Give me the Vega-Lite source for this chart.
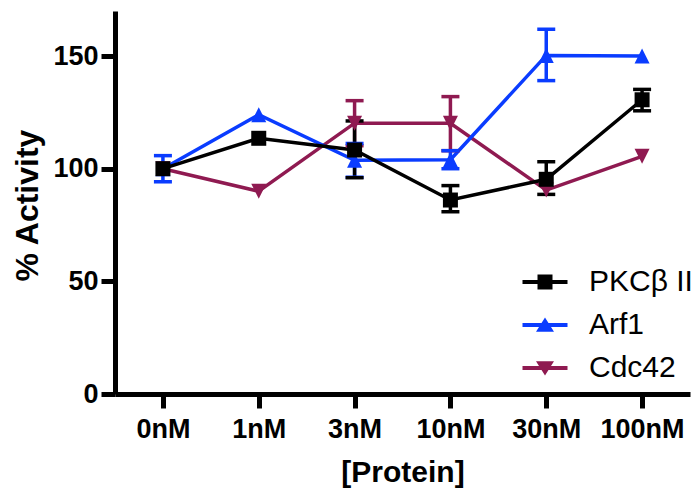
{
  "$schema": "https://vega.github.io/schema/vega-lite/v6.json",
  "width": 575,
  "height": 383,
  "autosize": {"type": "none"},
  "padding": {"left": 115, "top": 11, "right": 9, "bottom": 95},
  "config": {"view": {"stroke": null}, "font": "Liberation Sans"},
  "data": {
    "values": [
      {"conc": "0nM", "series": "Cdc42", "value": 100, "lo": null, "hi": null},
      {"conc": "1nM", "series": "Cdc42", "value": 90, "lo": null, "hi": null},
      {"conc": "3nM", "series": "Cdc42", "value": 120.2, "lo": 110.2, "hi": 130.2},
      {"conc": "10nM", "series": "Cdc42", "value": 120.2, "lo": 108, "hi": 132},
      {"conc": "30nM", "series": "Cdc42", "value": 90.5, "lo": null, "hi": null},
      {"conc": "100nM", "series": "Cdc42", "value": 105.5, "lo": null, "hi": null},
      {"conc": "0nM", "series": "Arf1", "value": 100, "lo": 94.2, "hi": 105.8},
      {"conc": "1nM", "series": "Arf1", "value": 124, "lo": null, "hi": null},
      {"conc": "3nM", "series": "Arf1", "value": 103.7, "lo": 96.2, "hi": 111.2},
      {"conc": "10nM", "series": "Arf1", "value": 104, "lo": 100, "hi": 108},
      {"conc": "30nM", "series": "Arf1", "value": 150.3, "lo": 139.1, "hi": 161.9},
      {"conc": "100nM", "series": "Arf1", "value": 150, "lo": null, "hi": null},
      {"conc": "0nM", "series": "PKCβ II", "value": 100, "lo": null, "hi": null},
      {"conc": "1nM", "series": "PKCβ II", "value": 113.5, "lo": null, "hi": null},
      {"conc": "3nM", "series": "PKCβ II", "value": 108.3, "lo": 96, "hi": 121.2},
      {"conc": "10nM", "series": "PKCβ II", "value": 86.1, "lo": 80.9, "hi": 92.5},
      {"conc": "30nM", "series": "PKCβ II", "value": 95.3, "lo": 88.6, "hi": 103.1},
      {"conc": "100nM", "series": "PKCβ II", "value": 130.6, "lo": 125.7, "hi": 135.2}
    ]
  },
  "encoding": {
    "x": {
      "field": "conc",
      "type": "ordinal",
      "sort": ["0nM", "1nM", "3nM", "10nM", "30nM", "100nM"],
      "scale": {"type": "point", "padding": 0.5},
      "axis": {
        "title": "[Protein]",
        "labelAngle": 0,
        "labelFont": "Liberation Sans",
        "labelFontSize": 27,
        "labelFontWeight": "bold",
        "labelColor": "#000000",
        "labelPadding": 8,
        "tickSize": 14,
        "tickWidth": 5,
        "tickColor": "#000000",
        "domainWidth": 5,
        "domainColor": "#000000",
        "grid": false,
        "titleFont": "Liberation Sans",
        "titleFontSize": 30,
        "titleFontWeight": "bold",
        "titleColor": "#000000",
        "titleX": 287.5,
        "titleY": 87,
        "titleAlign": "center",
        "titleBaseline": "alphabetic"
      }
    },
    "color": {
      "field": "series",
      "type": "nominal",
      "scale": {
        "domain": ["PKCβ II", "Arf1", "Cdc42"],
        "range": ["#000000", "#0A3CFF", "#8F1A51"]
      },
      "legend": {
        "title": null,
        "orient": "none",
        "legendX": 415,
        "legendY": 256,
        "padding": 0,
        "symbolSize": 900,
        "labelFont": "Liberation Sans",
        "labelFontSize": 30,
        "labelColor": "#000000",
        "labelOffset": 29,
        "rowPadding": 13,
        "encode": {
          "symbols": {
            "update": {
              "shape": {"signal": "datum.value === 'PKCβ II' ? 'M-1.5,-0.13H1.5V0.13H-1.5Z M-0.5,-0.5H0.5V0.5H-0.5Z' : datum.value === 'Arf1' ? 'M-1.5,-0.13H1.5V0.13H-1.5Z M0,-0.5L0.6,0.45H-0.6Z' : 'M-1.5,-0.13H1.5V0.13H-1.5Z M0,0.5L-0.6,-0.45H0.6Z'"},
              "fill": {"scale": "color", "field": "value"},
              "strokeWidth": {"value": 0},
              "opacity": {"value": 1}
            }
          }
        }
      }
    }
  },
  "layer": [
    {
      "mark": {"type": "line", "strokeWidth": 3.5},
      "encoding": {
        "y": {
          "field": "value",
          "type": "quantitative",
          "scale": {"domain": [0, 170], "nice": false},
          "axis": {
            "title": "% Activity",
            "values": [0, 50, 100, 150],
            "labelFont": "Liberation Sans",
            "labelFontSize": 27,
            "labelFontWeight": "bold",
            "labelColor": "#000000",
            "labelPadding": 3,
            "tickSize": 14,
            "tickWidth": 5,
            "tickColor": "#000000",
            "domainWidth": 5,
            "domainColor": "#000000",
            "grid": false,
            "titleFont": "Liberation Sans",
            "titleFontSize": 32,
            "titleFontWeight": "bold",
            "titleColor": "#000000",
            "titleX": -78,
            "titleY": 194,
            "titleAlign": "center",
            "titleBaseline": "alphabetic"
          }
        }
      }
    },
    {
      "mark": {"type": "rule", "strokeWidth": 3.5},
      "encoding": {
        "y": {"field": "lo", "type": "quantitative"},
        "y2": {"field": "hi"}
      }
    },
    {
      "mark": {"type": "tick", "size": 18, "thickness": 3.5, "opacity": 1},
      "encoding": {
        "y": {"field": "lo", "type": "quantitative"}
      }
    },
    {
      "mark": {"type": "tick", "size": 18, "thickness": 3.5, "opacity": 1},
      "encoding": {
        "y": {"field": "hi", "type": "quantitative"}
      }
    },
    {
      "transform": [{"filter": "datum.series === 'Cdc42'"}],
      "mark": {"type": "point", "filled": true, "opacity": 1, "size": 225, "shape": "M0,1L1,-1L-1,-1Z"},
      "encoding": {
        "y": {"field": "value", "type": "quantitative"}
      }
    },
    {
      "transform": [{"filter": "datum.series === 'Arf1'"}],
      "mark": {"type": "point", "filled": true, "opacity": 1, "size": 225, "shape": "M0,-1L1,1L-1,1Z"},
      "encoding": {
        "y": {"field": "value", "type": "quantitative"}
      }
    },
    {
      "transform": [{"filter": "datum.series === 'PKCβ II'"}],
      "mark": {"type": "point", "filled": true, "opacity": 1, "size": 225, "shape": "square"},
      "encoding": {
        "y": {"field": "value", "type": "quantitative"}
      }
    }
  ]
}
